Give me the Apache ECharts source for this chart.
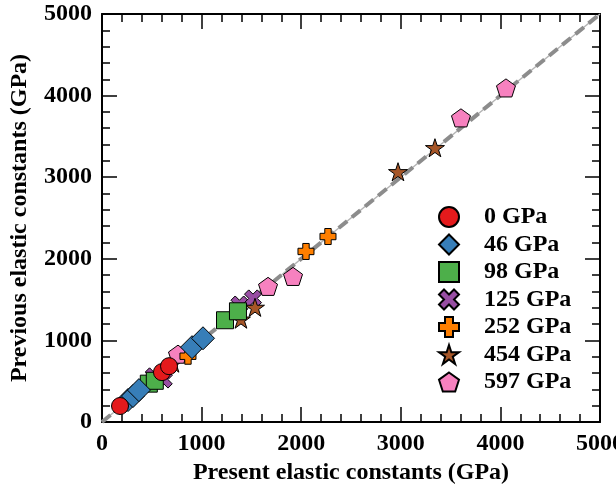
<!DOCTYPE html>
<html lang="en">
<head>
    <meta charset="UTF-8">
    <title>Elastic constants</title>
    <style>
        html, body { margin: 0; padding: 0; width: 100%; height: 100%; background: #fff; }
        #main { width: 616px; height: 495px; }
    </style>
</head>
<body>
    <div id="main"></div>
    <script src="https://cdn.jsdelivr.net/npm/echarts@6/dist/echarts.min.js"></script>
    <script type="text/javascript">
        // [present, previous] pairs (GPa)
        var p0 = [[181, 196], [602, 611], [673, 684]];
        var p46 = [[261, 269], [311, 318], [371, 391], [904, 917], [1014, 1026]];
        var p98 = [[470, 470], [530, 505], [1235, 1247], [1365, 1357]];
        var p125 = [[620, 520], [520, 560], [1380, 1440], [1516, 1515]];
        var p252 = [[863, 806], [2048, 2090], [2269, 2273]];
        var p454 = [[713, 721], [1395, 1260], [1536, 1405], [2972, 3067], [3343, 3361]];
        var p597 = [[763, 831], [1667, 1662], [1918, 1784], [3604, 3727], [4056, 4094]];
        var pressures = ['0 GPa', '46 GPa', '98 GPa', '125 GPa', '252 GPa', '454 GPa', '597 GPa'];
        var diagonal = [[0, 0], [5000, 5000]];

        var font = 'Liberation Serif';
        var starPath = 'path://M50,0 L61.17,34.63 L97.55,34.55 L68.07,55.87 L79.39,90.45 L50,69 L20.61,90.45 L31.93,55.87 L2.45,34.55 L38.83,34.63 Z';
        var pentPath = 'path://M50,0 L97.55,34.55 L79.39,90.45 L20.61,90.45 L2.45,34.55 Z';
        var plusPath = 'path://M3,0 L7,0 L7,3 L10,3 L10,7 L7,7 L7,10 L3,10 L3,7 L0,7 L0,3 L3,3 Z';
        var crossPath = 'path://M2.5,0 L5,2.5 L7.5,0 L10,2.5 L7.5,5 L10,7.5 L7.5,10 L5,7.5 L2.5,10 L0,7.5 L2.5,5 L0,2.5 Z';

        var sets = [
            { data: p0, symbol: 'circle', size: 17, color: '#e41a1c', z: 9 },
            { data: p46, symbol: 'diamond', size: 23, color: '#377eb8', z: 8 },
            { data: p98, symbol: 'rect', size: 17, color: '#4daf4a', z: 7 },
            { data: p125, symbol: crossPath, size: 17, color: '#984ea3', z: 3 },
            { data: p252, symbol: plusPath, size: 16, color: '#ff7f00', z: 6 },
            { data: p454, symbol: starPath, size: 19, color: '#a65628', z: 4 },
            { data: p597, symbol: pentPath, size: 19, color: '#f781bf', z: 5 }
        ];

        var series = sets.map(function (s, i) {
            return {
                name: pressures[i],
                type: 'scatter',
                data: s.data,
                symbol: s.symbol,
                symbolSize: s.size,
                symbolKeepAspect: true,
                z: s.z,
                itemStyle: { color: s.color, borderColor: '#000', borderWidth: 1, opacity: 1 }
            };
        });
        series.push({
            type: 'line', data: diagonal, symbol: 'none', silent: true, z: 1,
            lineStyle: { color: '#b4b4b4', width: 1.5 }
        });
        series.push({
            type: 'line', data: diagonal, symbol: 'none', silent: true, z: 2,
            lineStyle: { color: '#8c8c8c', width: 4, type: [11, 6] }
        });

        function axis(pos, showLabel, name) {
            return {
                type: 'value', position: pos, min: 0, max: 5000, interval: 1000,
                name: name || '', nameLocation: 'middle',
                nameTextStyle: { fontFamily: font, fontWeight: 'bold', fontSize: 24, color: '#000' },
                axisLine: { show: true, onZero: false, lineStyle: { color: '#000', width: 2 } },
                axisTick: { show: true, inside: true, length: 15, lineStyle: { color: '#000', width: 1.5 } },
                minorTick: { show: true, splitNumber: 5, length: 8, lineStyle: { color: '#000', width: 1.5 } },
                axisLabel: {
                    show: showLabel, margin: 10, fontFamily: font, fontWeight: 'bold', fontSize: 24, color: '#000',
                    formatter: function (v) { return String(v); }
                },
                splitLine: { show: false }
            };
        }

        var xBottom = axis('bottom', true, 'Present elastic constants (GPa)');
        xBottom.nameGap = 38;
        var yLeft = axis('left', true, 'Previous elastic constants (GPa)');
        yLeft.nameGap = 70;
        var xTop = axis('top', false);
        var yRight = axis('right', false);

        var myChart = echarts.init(document.getElementById('main'));
        var option = {
            animation: false,
            backgroundColor: '#fff',
            grid: { left: 102, right: 16, top: 14, bottom: 73, outerBoundsMode: 'none', containLabel: false },
            xAxis: [xBottom, xTop],
            yAxis: [yLeft, yRight],
            legend: {
                data: pressures,
                orient: 'vertical',
                left: 433, top: 200,
                itemWidth: 20, itemHeight: 20, itemGap: 3.5,
                textStyle: {
                    fontFamily: font, fontWeight: 'bold', fontSize: 24, color: '#000',
                    lineHeight: 20, padding: [0, 0, 0, 20]
                }
            },
            series: series
        };
        myChart.setOption(option);
        window.addEventListener('resize', function () {
            myChart.resize();
        });
    </script>
</body>
</html>
